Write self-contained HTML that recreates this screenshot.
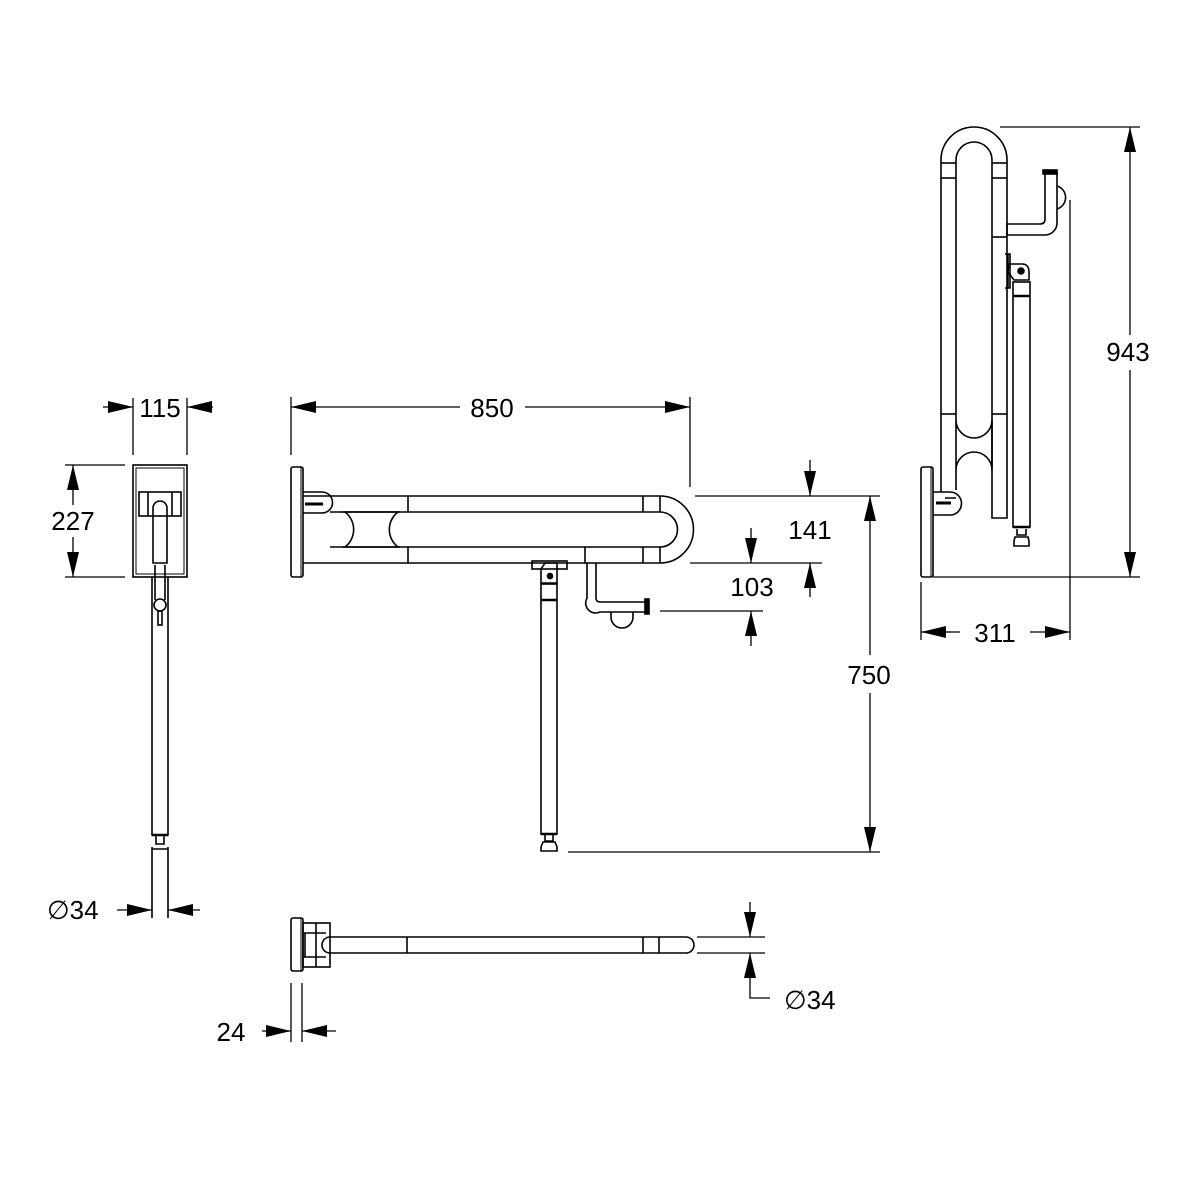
<!DOCTYPE html>
<html><head><meta charset="utf-8"><style>
html,body{margin:0;padding:0;background:#fff;}
svg{display:block;}
text{font-family:"Liberation Sans",sans-serif;font-size:26px;fill:#000;}
</style></head><body>
<svg width="1181" height="1181" viewBox="0 0 1181 1181" xmlns="http://www.w3.org/2000/svg">
<defs>
<marker id="a" markerWidth="10" markerHeight="30" refX="10" refY="5" orient="auto" markerUnits="userSpaceOnUse" viewBox="0 0 10 10"></marker>
</defs>
<g fill="none" stroke="#000" stroke-width="1.6">

<!-- ===== FRONT VIEW ===== -->
<rect x="291" y="467" width="12" height="110" rx="2"/>
<line x1="301" y1="467" x2="301" y2="577" stroke-width="1"/>
<path d="M303 492 H322 A10 10 0 0 1 322 513 H303"/>
<line x1="305" y1="504" x2="323" y2="504" stroke-width="3"/>
<!-- bar -->
<path d="M303 496 H660 M303 563 H660 M330 512 H660 M330 547 H660"/>
<path d="M660 496 A33.5 33.5 0 0 1 660 563" />
<path d="M660 512 A17.5 17.5 0 0 1 660 547" />
<line x1="408" y1="496" x2="408" y2="512"/><line x1="408" y1="547" x2="408" y2="563"/>
<line x1="643" y1="496" x2="643" y2="512"/><line x1="643" y1="547" x2="643" y2="563"/>
<line x1="660" y1="496" x2="660" y2="512"/><line x1="660" y1="547" x2="660" y2="563"/>
<line x1="585" y1="547" x2="585" y2="563"/>
<!-- hourglass -->
<path d="M342 512 H400 M342 547 H400"/>
<path d="M345 512 A22 22 0 0 1 345 547" />
<path d="M398 512 A22 22 0 0 0 398 547" />
<!-- leg -->
<rect x="532" y="561" width="35" height="8"/>
<path d="M545 563 h12 v20 h-16 v-14 z"/>
<circle cx="550" cy="576" r="2.5" fill="#000"/>
<rect x="541" y="584" width="16" height="250"/>
<line x1="541" y1="600" x2="557" y2="600" stroke-width="2.5"/>
<line x1="541" y1="834" x2="557" y2="834" stroke-width="2.5"/>
<path d="M545 835 v6 h8 v-6 M543 842 h12 l2 5 v4 h-16 v-4 z"/>
<!-- bracket -->
<path d="M587 563 V598 A10 10 0 0 0 600 612 H648 V602 H600 Q596 602 596 598 V563"/>
<rect x="645" y="599" width="4" height="15" fill="#000"/>
<path d="M611 612 V617 A10 10 0 0 0 633 617 V612"/>

<!-- ===== LEFT SIDE VIEW ===== -->
<rect x="133" y="465" width="54" height="112"/>
<rect x="136" y="468" width="48" height="106" stroke-width="1"/>
<rect x="139" y="492" width="42" height="24"/>
<line x1="148" y1="492" x2="148" y2="516"/><line x1="172" y1="492" x2="172" y2="516"/>
<path d="M153 563 V508 A7 7 0 0 1 167 508 V563 Z"/>
<path d="M152 577 V600 M168 577 V600 M155 565 V600 M165 565 V600"/>
<circle cx="160" cy="605" r="6"/>
<rect x="158" y="611" width="4" height="14"/>
<path d="M152 600 V835 H168 V600"/>
<line x1="152" y1="835" x2="168" y2="835" stroke-width="2.5"/>
<path d="M156 836 v8 h8 v-8 M152 849 h16 M152 847 V918 M168 847 V918"/>

<!-- ===== RIGHT SIDE VIEW ===== -->
<rect x="921" y="467" width="12" height="110" rx="2"/>
<line x1="931" y1="467" x2="931" y2="577" stroke-width="1"/>
<path d="M933 492 H950 A11 11 0 0 1 950 515 H933"/>
<line x1="936" y1="503" x2="951" y2="503" stroke-width="3"/>
<path d="M941 492 V160 A33 33 0 0 1 1007 160 V518 H992 V160 A18 18 0 0 0 956 160 V420"/>
<line x1="941" y1="163" x2="956" y2="163"/><line x1="941" y1="178" x2="956" y2="178"/>
<line x1="992" y1="163" x2="1007" y2="163"/><line x1="992" y1="178" x2="1007" y2="178"/>
<line x1="941" y1="414" x2="956" y2="414"/><line x1="992" y1="414" x2="1007" y2="414"/>
<line x1="992" y1="237" x2="1007" y2="237"/>
<path d="M956 420 A18 18 0 0 0 992 420 M956 470 A18 18 0 0 1 992 470 M956 420 V490 M992 420 V470 M945 498 H956"/>
<!-- upper bracket -->
<path d="M1007 224 H1040 Q1045 224 1045 219 V172 H1057 V223 A12 12 0 0 1 1045 235 H1007 Z"/>
<rect x="1043" y="170" width="14" height="4" fill="#000"/>
<path d="M1057 186 A12 12 0 0 1 1057 209"/>
<!-- leg connector -->
<path d="M1005 254 H1010 V288 H1005 M1008 254 V288"/>
<path d="M1009 264 H1022 Q1029 264 1029 272 V280 H1014 L1008 272 Z"/>
<circle cx="1021" cy="271" r="3" fill="#000"/>
<rect x="1013" y="282" width="17" height="245"/>
<line x1="1013" y1="296" x2="1030" y2="296" stroke-width="2.5"/>
<line x1="1013" y1="527" x2="1030" y2="527" stroke-width="2.5"/>
<path d="M1017 529 v6 h9 v-6 M1015 537 h13 l1 4 v5 h-15 v-5 z"/>

<!-- ===== BOTTOM VIEW ===== -->
<rect x="291" y="918" width="12" height="53" rx="2"/>
<line x1="301" y1="918" x2="301" y2="971" stroke-width="1"/>
<rect x="303" y="923" width="27" height="44"/>
<line x1="316" y1="923" x2="316" y2="967"/>
<path d="M303 933 H326 M303 957 H326 M305 933 V957"/>
<path d="M330 937 H686 A8 8 0 0 1 686 953 H330 A8 8 0 0 1 330 937"/>
<line x1="407" y1="937" x2="407" y2="953"/>
<line x1="643" y1="937" x2="643" y2="953"/>
<line x1="659" y1="937" x2="659" y2="953"/>
</g>

<!-- ===== DIMENSIONS ===== -->
<g stroke="#000" stroke-width="1.3" fill="none">
<!-- 850 -->
<path d="M291 397 V455 M690 397 V487 M291 407 H460 M525 407 H690"/>
<!-- 141/103 -->
<path d="M695 496 H880 M690 563 H822 M660 611 H763"/>
<path d="M810 460 V496 M810 563 V597 M751 528 V563 M751 611 V646"/>
<!-- 750 -->
<path d="M870 496 V655 M870 693 V852 M568 852 H880"/>
<!-- 115 -->
<path d="M133 398 V455 M187 398 V455 M103 407 H133 M187 407 H213"/>
<!-- 227 -->
<path d="M65 465 H125 M65 577 H125 M73 465 V505 M73 537 V577"/>
<!-- dia34 left -->
<path d="M117 910 H152 M168 910 H200"/>
<!-- 943 -->
<path d="M1000 127 H1140 M933 577 H1140 M1130 127 V335 M1130 370 V577"/>
<!-- 311 -->
<path d="M921 582 V640 M1070 200 V640 M921 632 H960 M1030 632 H1070"/>
<!-- bottom dia34 -->
<path d="M697 937 H765 M697 953 H765 M750 902 V937 M750 953 V998 H770"/>
<!-- 24 -->
<path d="M291 983 V1042 M302 983 V1042 M262 1031 H291 M302 1031 H336"/>
</g>
<g fill="#000">
<!-- 850 arrows -->
<polygon points="291,407 316,401 316,413"/>
<polygon points="690,407 665,401 665,413"/>
<!-- 141 -->
<polygon points="810,496 804,471 816,471"/>
<polygon points="810,563 804,588 816,588"/>
<!-- 103 -->
<polygon points="751,563 745,538 757,538"/>
<polygon points="751,611 745,636 757,636"/>
<!-- 750 -->
<polygon points="870,496 864,521 876,521"/>
<polygon points="870,852 864,827 876,827"/>
<!-- 115 -->
<polygon points="133,407 108,401 108,413"/>
<polygon points="187,407 212,401 212,413"/>
<!-- 227 -->
<polygon points="73,465 67,490 79,490"/>
<polygon points="73,577 67,552 79,552"/>
<!-- dia left -->
<polygon points="152,910 127,904 127,916"/>
<polygon points="168,910 193,904 193,916"/>
<!-- 943 -->
<polygon points="1130,127 1124,152 1136,152"/>
<polygon points="1130,577 1124,552 1136,552"/>
<!-- 311 -->
<polygon points="921,632 946,626 946,638"/>
<polygon points="1070,632 1045,626 1045,638"/>
<!-- bottom dia -->
<polygon points="750,937 744,912 756,912"/>
<polygon points="750,953 744,978 756,978"/>
<!-- 24 -->
<polygon points="291,1031 266,1025 266,1037"/>
<polygon points="302,1031 327,1025 327,1037"/>
</g>
<g text-anchor="middle">
<text x="492" y="417">850</text>
<text x="160" y="417">115</text>
<text x="73" y="530">227</text>
<text x="810" y="539">141</text>
<text x="752" y="596">103</text>
<text x="869" y="684">750</text>
<text x="1128" y="361">943</text>
<text x="995" y="642">311</text>
<text x="231" y="1041">24</text>
</g>
<text x="47" y="919">∅34</text>
<text x="784" y="1009">∅34</text>
</svg>
</body></html>
